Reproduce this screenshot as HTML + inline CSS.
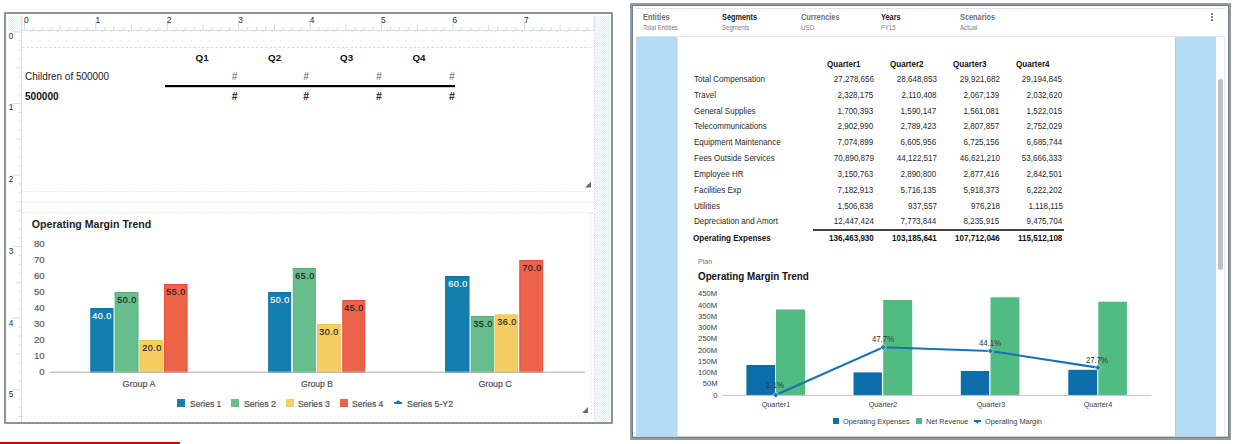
<!DOCTYPE html>
<html><head><meta charset="utf-8"><title>Report</title>
<style>html,body{margin:0;padding:0;}body{width:1235px;height:444px;position:relative;overflow:hidden;background:#fff;font-family:'Liberation Sans', sans-serif;}</style>
</head><body>
<div style="position:absolute;left:4px;top:12px;width:609px;height:412px;border:2px solid #8a9595;box-sizing:border-box;border-radius:1px;"></div><div style="position:absolute;left:8px;top:16px;width:14px;height:15px;background:repeating-conic-gradient(#e5f0f0 0 25%, #fafcfc 0 50%) 0 0/2px 2px;"></div><div style="position:absolute;left:594px;top:16px;width:17px;height:406px;background:repeating-conic-gradient(#e5f0f0 0 25%, #fafcfc 0 50%) 0 0/2px 2px;"></div><div style="position:absolute;left:630px;top:3px;width:601px;height:437px;border:2px solid #909d9b;box-sizing:border-box;border-radius:1px;"></div><div style="position:absolute;left:632px;top:5px;width:597px;height:433px;border:1px solid #737e8a;box-sizing:border-box;"></div><div style="position:absolute;left:633px;top:436px;width:595px;height:1px;background:#cfd1d6;"></div><div style="position:absolute;left:636px;top:8px;width:589px;height:1px;background:#ecdde8;"></div><div style="position:absolute;left:636px;top:36px;width:589px;height:1px;background:#ebe4ea;"></div><div style="position:absolute;left:636px;top:37px;width:41px;height:399px;background:#b5dcf5;"></div><div style="position:absolute;left:677px;top:37px;width:1px;height:399px;background:#e3e6ec;"></div><div style="position:absolute;left:1175px;top:37px;width:1px;height:399px;background:#c6c6c6;"></div><div style="position:absolute;left:1176px;top:37px;width:40px;height:399px;background:#b5dcf5;"></div><div style="position:absolute;left:1224px;top:37px;width:1px;height:399px;background:#e4eef0;"></div><div style="position:absolute;left:1218px;top:79px;width:5px;height:191px;background:#c2c0c3;border-radius:3px;"></div>
<svg style="position:absolute;left:0;top:0" width="1235" height="444"><rect x="22" y="30" width="572" height="1" fill="#d0dde6"/><rect x="23.95" y="20.5" width="1" height="9.5" fill="#d0dde6"/><rect x="32.88" y="27" width="1" height="3" fill="#d0dde6"/><rect x="41.80" y="27" width="1" height="3" fill="#d0dde6"/><rect x="50.73" y="27" width="1" height="3" fill="#d0dde6"/><rect x="59.66" y="24.5" width="1" height="5.5" fill="#d0dde6"/><rect x="68.59" y="27" width="1" height="3" fill="#d0dde6"/><rect x="77.52" y="27" width="1" height="3" fill="#d0dde6"/><rect x="86.44" y="27" width="1" height="3" fill="#d0dde6"/><rect x="95.37" y="20.5" width="1" height="9.5" fill="#d0dde6"/><rect x="104.30" y="27" width="1" height="3" fill="#d0dde6"/><rect x="113.23" y="27" width="1" height="3" fill="#d0dde6"/><rect x="122.15" y="27" width="1" height="3" fill="#d0dde6"/><rect x="131.08" y="24.5" width="1" height="5.5" fill="#d0dde6"/><rect x="140.01" y="27" width="1" height="3" fill="#d0dde6"/><rect x="148.94" y="27" width="1" height="3" fill="#d0dde6"/><rect x="157.86" y="27" width="1" height="3" fill="#d0dde6"/><rect x="166.79" y="20.5" width="1" height="9.5" fill="#d0dde6"/><rect x="175.72" y="27" width="1" height="3" fill="#d0dde6"/><rect x="184.64" y="27" width="1" height="3" fill="#d0dde6"/><rect x="193.57" y="27" width="1" height="3" fill="#d0dde6"/><rect x="202.50" y="24.5" width="1" height="5.5" fill="#d0dde6"/><rect x="211.43" y="27" width="1" height="3" fill="#d0dde6"/><rect x="220.35" y="27" width="1" height="3" fill="#d0dde6"/><rect x="229.28" y="27" width="1" height="3" fill="#d0dde6"/><rect x="238.21" y="20.5" width="1" height="9.5" fill="#d0dde6"/><rect x="247.14" y="27" width="1" height="3" fill="#d0dde6"/><rect x="256.06" y="27" width="1" height="3" fill="#d0dde6"/><rect x="264.99" y="27" width="1" height="3" fill="#d0dde6"/><rect x="273.92" y="24.5" width="1" height="5.5" fill="#d0dde6"/><rect x="282.85" y="27" width="1" height="3" fill="#d0dde6"/><rect x="291.77" y="27" width="1" height="3" fill="#d0dde6"/><rect x="300.70" y="27" width="1" height="3" fill="#d0dde6"/><rect x="309.63" y="20.5" width="1" height="9.5" fill="#d0dde6"/><rect x="318.56" y="27" width="1" height="3" fill="#d0dde6"/><rect x="327.49" y="27" width="1" height="3" fill="#d0dde6"/><rect x="336.41" y="27" width="1" height="3" fill="#d0dde6"/><rect x="345.34" y="24.5" width="1" height="5.5" fill="#d0dde6"/><rect x="354.27" y="27" width="1" height="3" fill="#d0dde6"/><rect x="363.19" y="27" width="1" height="3" fill="#d0dde6"/><rect x="372.12" y="27" width="1" height="3" fill="#d0dde6"/><rect x="381.05" y="20.5" width="1" height="9.5" fill="#d0dde6"/><rect x="389.98" y="27" width="1" height="3" fill="#d0dde6"/><rect x="398.90" y="27" width="1" height="3" fill="#d0dde6"/><rect x="407.83" y="27" width="1" height="3" fill="#d0dde6"/><rect x="416.76" y="24.5" width="1" height="5.5" fill="#d0dde6"/><rect x="425.69" y="27" width="1" height="3" fill="#d0dde6"/><rect x="434.62" y="27" width="1" height="3" fill="#d0dde6"/><rect x="443.54" y="27" width="1" height="3" fill="#d0dde6"/><rect x="452.47" y="20.5" width="1" height="9.5" fill="#d0dde6"/><rect x="461.40" y="27" width="1" height="3" fill="#d0dde6"/><rect x="470.32" y="27" width="1" height="3" fill="#d0dde6"/><rect x="479.25" y="27" width="1" height="3" fill="#d0dde6"/><rect x="488.18" y="24.5" width="1" height="5.5" fill="#d0dde6"/><rect x="497.11" y="27" width="1" height="3" fill="#d0dde6"/><rect x="506.04" y="27" width="1" height="3" fill="#d0dde6"/><rect x="514.96" y="27" width="1" height="3" fill="#d0dde6"/><rect x="523.89" y="20.5" width="1" height="9.5" fill="#d0dde6"/><rect x="532.82" y="27" width="1" height="3" fill="#d0dde6"/><rect x="541.75" y="27" width="1" height="3" fill="#d0dde6"/><rect x="550.67" y="27" width="1" height="3" fill="#d0dde6"/><rect x="559.60" y="24.5" width="1" height="5.5" fill="#d0dde6"/><rect x="568.53" y="27" width="1" height="3" fill="#d0dde6"/><rect x="577.46" y="27" width="1" height="3" fill="#d0dde6"/><rect x="586.38" y="27" width="1" height="3" fill="#d0dde6"/><rect x="21.3" y="16" width="1" height="15" fill="#d0dde6"/><rect x="593.6" y="16" width="1" height="15" fill="#d0dde6"/><rect x="21" y="31" width="1" height="391" fill="#d0dde6"/><rect x="12.5" y="31.50" width="8.5" height="1" fill="#d0dde6"/><rect x="18.5" y="40.44" width="2.5" height="1" fill="#d0dde6"/><rect x="18.5" y="49.39" width="2.5" height="1" fill="#d0dde6"/><rect x="18.5" y="58.33" width="2.5" height="1" fill="#d0dde6"/><rect x="16.5" y="67.28" width="4.5" height="1" fill="#d0dde6"/><rect x="18.5" y="76.22" width="2.5" height="1" fill="#d0dde6"/><rect x="18.5" y="85.16" width="2.5" height="1" fill="#d0dde6"/><rect x="18.5" y="94.11" width="2.5" height="1" fill="#d0dde6"/><rect x="12.5" y="103.05" width="8.5" height="1" fill="#d0dde6"/><rect x="18.5" y="111.99" width="2.5" height="1" fill="#d0dde6"/><rect x="18.5" y="120.94" width="2.5" height="1" fill="#d0dde6"/><rect x="18.5" y="129.88" width="2.5" height="1" fill="#d0dde6"/><rect x="16.5" y="138.82" width="4.5" height="1" fill="#d0dde6"/><rect x="18.5" y="147.77" width="2.5" height="1" fill="#d0dde6"/><rect x="18.5" y="156.71" width="2.5" height="1" fill="#d0dde6"/><rect x="18.5" y="165.66" width="2.5" height="1" fill="#d0dde6"/><rect x="12.5" y="174.60" width="8.5" height="1" fill="#d0dde6"/><rect x="18.5" y="183.54" width="2.5" height="1" fill="#d0dde6"/><rect x="18.5" y="192.49" width="2.5" height="1" fill="#d0dde6"/><rect x="18.5" y="201.43" width="2.5" height="1" fill="#d0dde6"/><rect x="16.5" y="210.38" width="4.5" height="1" fill="#d0dde6"/><rect x="18.5" y="219.32" width="2.5" height="1" fill="#d0dde6"/><rect x="18.5" y="228.26" width="2.5" height="1" fill="#d0dde6"/><rect x="18.5" y="237.21" width="2.5" height="1" fill="#d0dde6"/><rect x="12.5" y="246.15" width="8.5" height="1" fill="#d0dde6"/><rect x="18.5" y="255.09" width="2.5" height="1" fill="#d0dde6"/><rect x="18.5" y="264.04" width="2.5" height="1" fill="#d0dde6"/><rect x="18.5" y="272.98" width="2.5" height="1" fill="#d0dde6"/><rect x="16.5" y="281.92" width="4.5" height="1" fill="#d0dde6"/><rect x="18.5" y="290.87" width="2.5" height="1" fill="#d0dde6"/><rect x="18.5" y="299.81" width="2.5" height="1" fill="#d0dde6"/><rect x="18.5" y="308.76" width="2.5" height="1" fill="#d0dde6"/><rect x="12.5" y="317.70" width="8.5" height="1" fill="#d0dde6"/><rect x="18.5" y="326.64" width="2.5" height="1" fill="#d0dde6"/><rect x="18.5" y="335.59" width="2.5" height="1" fill="#d0dde6"/><rect x="18.5" y="344.53" width="2.5" height="1" fill="#d0dde6"/><rect x="16.5" y="353.47" width="4.5" height="1" fill="#d0dde6"/><rect x="18.5" y="362.42" width="2.5" height="1" fill="#d0dde6"/><rect x="18.5" y="371.36" width="2.5" height="1" fill="#d0dde6"/><rect x="18.5" y="380.31" width="2.5" height="1" fill="#d0dde6"/><rect x="12.5" y="389.25" width="8.5" height="1" fill="#d0dde6"/><rect x="18.5" y="398.19" width="2.5" height="1" fill="#d0dde6"/><rect x="18.5" y="407.14" width="2.5" height="1" fill="#d0dde6"/><rect x="18.5" y="416.08" width="2.5" height="1" fill="#d0dde6"/><rect x="29.88" y="31.2" width="2" height="1" fill="#f1dbe4"/><rect x="30.38" y="39.8" width="1" height="2" fill="#e3ecef"/><rect x="38.80" y="31.2" width="2" height="1" fill="#f1dbe4"/><rect x="39.30" y="39.8" width="1" height="2" fill="#e3ecef"/><rect x="47.73" y="31.2" width="2" height="1" fill="#f1dbe4"/><rect x="48.23" y="39.8" width="1" height="2" fill="#e3ecef"/><rect x="56.66" y="31.2" width="2" height="1" fill="#f1dbe4"/><rect x="57.16" y="39.8" width="1" height="2" fill="#e3ecef"/><rect x="65.59" y="31.2" width="2" height="1" fill="#f1dbe4"/><rect x="66.09" y="39.8" width="1" height="2" fill="#e3ecef"/><rect x="74.52" y="31.2" width="2" height="1" fill="#f1dbe4"/><rect x="75.02" y="39.8" width="1" height="2" fill="#e3ecef"/><rect x="83.44" y="31.2" width="2" height="1" fill="#f1dbe4"/><rect x="83.94" y="39.8" width="1" height="2" fill="#e3ecef"/><rect x="92.37" y="31.2" width="2" height="1" fill="#f1dbe4"/><rect x="92.87" y="39.8" width="1" height="2" fill="#e3ecef"/><rect x="101.30" y="31.2" width="2" height="1" fill="#f1dbe4"/><rect x="101.80" y="39.8" width="1" height="2" fill="#e3ecef"/><rect x="110.23" y="31.2" width="2" height="1" fill="#f1dbe4"/><rect x="110.73" y="39.8" width="1" height="2" fill="#e3ecef"/><rect x="119.15" y="31.2" width="2" height="1" fill="#f1dbe4"/><rect x="119.65" y="39.8" width="1" height="2" fill="#e3ecef"/><rect x="128.08" y="31.2" width="2" height="1" fill="#f1dbe4"/><rect x="128.58" y="39.8" width="1" height="2" fill="#e3ecef"/><rect x="137.01" y="31.2" width="2" height="1" fill="#f1dbe4"/><rect x="137.51" y="39.8" width="1" height="2" fill="#e3ecef"/><rect x="145.94" y="31.2" width="2" height="1" fill="#f1dbe4"/><rect x="146.44" y="39.8" width="1" height="2" fill="#e3ecef"/><rect x="154.86" y="31.2" width="2" height="1" fill="#f1dbe4"/><rect x="155.36" y="39.8" width="1" height="2" fill="#e3ecef"/><rect x="163.79" y="31.2" width="2" height="1" fill="#f1dbe4"/><rect x="164.29" y="39.8" width="1" height="2" fill="#e3ecef"/><rect x="172.72" y="31.2" width="2" height="1" fill="#f1dbe4"/><rect x="173.22" y="39.8" width="1" height="2" fill="#e3ecef"/><rect x="181.64" y="31.2" width="2" height="1" fill="#f1dbe4"/><rect x="182.14" y="39.8" width="1" height="2" fill="#e3ecef"/><rect x="190.57" y="31.2" width="2" height="1" fill="#f1dbe4"/><rect x="191.07" y="39.8" width="1" height="2" fill="#e3ecef"/><rect x="199.50" y="31.2" width="2" height="1" fill="#f1dbe4"/><rect x="200.00" y="39.8" width="1" height="2" fill="#e3ecef"/><rect x="208.43" y="31.2" width="2" height="1" fill="#f1dbe4"/><rect x="208.93" y="39.8" width="1" height="2" fill="#e3ecef"/><rect x="217.35" y="31.2" width="2" height="1" fill="#f1dbe4"/><rect x="217.85" y="39.8" width="1" height="2" fill="#e3ecef"/><rect x="226.28" y="31.2" width="2" height="1" fill="#f1dbe4"/><rect x="226.78" y="39.8" width="1" height="2" fill="#e3ecef"/><rect x="235.21" y="31.2" width="2" height="1" fill="#f1dbe4"/><rect x="235.71" y="39.8" width="1" height="2" fill="#e3ecef"/><rect x="244.14" y="31.2" width="2" height="1" fill="#f1dbe4"/><rect x="244.64" y="39.8" width="1" height="2" fill="#e3ecef"/><rect x="253.06" y="31.2" width="2" height="1" fill="#f1dbe4"/><rect x="253.56" y="39.8" width="1" height="2" fill="#e3ecef"/><rect x="261.99" y="31.2" width="2" height="1" fill="#f1dbe4"/><rect x="262.49" y="39.8" width="1" height="2" fill="#e3ecef"/><rect x="270.92" y="31.2" width="2" height="1" fill="#f1dbe4"/><rect x="271.42" y="39.8" width="1" height="2" fill="#e3ecef"/><rect x="279.85" y="31.2" width="2" height="1" fill="#f1dbe4"/><rect x="280.35" y="39.8" width="1" height="2" fill="#e3ecef"/><rect x="288.77" y="31.2" width="2" height="1" fill="#f1dbe4"/><rect x="289.27" y="39.8" width="1" height="2" fill="#e3ecef"/><rect x="297.70" y="31.2" width="2" height="1" fill="#f1dbe4"/><rect x="298.20" y="39.8" width="1" height="2" fill="#e3ecef"/><rect x="306.63" y="31.2" width="2" height="1" fill="#f1dbe4"/><rect x="307.13" y="39.8" width="1" height="2" fill="#e3ecef"/><rect x="315.56" y="31.2" width="2" height="1" fill="#f1dbe4"/><rect x="316.06" y="39.8" width="1" height="2" fill="#e3ecef"/><rect x="324.49" y="31.2" width="2" height="1" fill="#f1dbe4"/><rect x="324.99" y="39.8" width="1" height="2" fill="#e3ecef"/><rect x="333.41" y="31.2" width="2" height="1" fill="#f1dbe4"/><rect x="333.91" y="39.8" width="1" height="2" fill="#e3ecef"/><rect x="342.34" y="31.2" width="2" height="1" fill="#f1dbe4"/><rect x="342.84" y="39.8" width="1" height="2" fill="#e3ecef"/><rect x="351.27" y="31.2" width="2" height="1" fill="#f1dbe4"/><rect x="351.77" y="39.8" width="1" height="2" fill="#e3ecef"/><rect x="360.19" y="31.2" width="2" height="1" fill="#f1dbe4"/><rect x="360.69" y="39.8" width="1" height="2" fill="#e3ecef"/><rect x="369.12" y="31.2" width="2" height="1" fill="#f1dbe4"/><rect x="369.62" y="39.8" width="1" height="2" fill="#e3ecef"/><rect x="378.05" y="31.2" width="2" height="1" fill="#f1dbe4"/><rect x="378.55" y="39.8" width="1" height="2" fill="#e3ecef"/><rect x="386.98" y="31.2" width="2" height="1" fill="#f1dbe4"/><rect x="387.48" y="39.8" width="1" height="2" fill="#e3ecef"/><rect x="395.90" y="31.2" width="2" height="1" fill="#f1dbe4"/><rect x="396.40" y="39.8" width="1" height="2" fill="#e3ecef"/><rect x="404.83" y="31.2" width="2" height="1" fill="#f1dbe4"/><rect x="405.33" y="39.8" width="1" height="2" fill="#e3ecef"/><rect x="413.76" y="31.2" width="2" height="1" fill="#f1dbe4"/><rect x="414.26" y="39.8" width="1" height="2" fill="#e3ecef"/><rect x="422.69" y="31.2" width="2" height="1" fill="#f1dbe4"/><rect x="423.19" y="39.8" width="1" height="2" fill="#e3ecef"/><rect x="431.62" y="31.2" width="2" height="1" fill="#f1dbe4"/><rect x="432.12" y="39.8" width="1" height="2" fill="#e3ecef"/><rect x="440.54" y="31.2" width="2" height="1" fill="#f1dbe4"/><rect x="441.04" y="39.8" width="1" height="2" fill="#e3ecef"/><rect x="449.47" y="31.2" width="2" height="1" fill="#f1dbe4"/><rect x="449.97" y="39.8" width="1" height="2" fill="#e3ecef"/><rect x="458.40" y="31.2" width="2" height="1" fill="#f1dbe4"/><rect x="458.90" y="39.8" width="1" height="2" fill="#e3ecef"/><rect x="467.32" y="31.2" width="2" height="1" fill="#f1dbe4"/><rect x="467.82" y="39.8" width="1" height="2" fill="#e3ecef"/><rect x="476.25" y="31.2" width="2" height="1" fill="#f1dbe4"/><rect x="476.75" y="39.8" width="1" height="2" fill="#e3ecef"/><rect x="485.18" y="31.2" width="2" height="1" fill="#f1dbe4"/><rect x="485.68" y="39.8" width="1" height="2" fill="#e3ecef"/><rect x="494.11" y="31.2" width="2" height="1" fill="#f1dbe4"/><rect x="494.61" y="39.8" width="1" height="2" fill="#e3ecef"/><rect x="503.04" y="31.2" width="2" height="1" fill="#f1dbe4"/><rect x="503.54" y="39.8" width="1" height="2" fill="#e3ecef"/><rect x="511.96" y="31.2" width="2" height="1" fill="#f1dbe4"/><rect x="512.46" y="39.8" width="1" height="2" fill="#e3ecef"/><rect x="520.89" y="31.2" width="2" height="1" fill="#f1dbe4"/><rect x="521.39" y="39.8" width="1" height="2" fill="#e3ecef"/><rect x="529.82" y="31.2" width="2" height="1" fill="#f1dbe4"/><rect x="530.32" y="39.8" width="1" height="2" fill="#e3ecef"/><rect x="538.75" y="31.2" width="2" height="1" fill="#f1dbe4"/><rect x="539.25" y="39.8" width="1" height="2" fill="#e3ecef"/><rect x="547.67" y="31.2" width="2" height="1" fill="#f1dbe4"/><rect x="548.17" y="39.8" width="1" height="2" fill="#e3ecef"/><rect x="556.60" y="31.2" width="2" height="1" fill="#f1dbe4"/><rect x="557.10" y="39.8" width="1" height="2" fill="#e3ecef"/><rect x="565.53" y="31.2" width="2" height="1" fill="#f1dbe4"/><rect x="566.03" y="39.8" width="1" height="2" fill="#e3ecef"/><rect x="574.46" y="31.2" width="2" height="1" fill="#f1dbe4"/><rect x="574.96" y="39.8" width="1" height="2" fill="#e3ecef"/><rect x="583.38" y="31.2" width="2" height="1" fill="#f1dbe4"/><rect x="583.88" y="39.8" width="1" height="2" fill="#e3ecef"/><rect x="22" y="201.5" width="572" height="1" fill="#eef3f5"/><line x1="22" y1="47.5" x2="594" y2="47.5" stroke="#cfdde6" stroke-width="1" stroke-dasharray="2.5 2"/><line x1="22" y1="191.5" x2="594" y2="191.5" stroke="#cfdde6" stroke-width="1" stroke-dasharray="1 2"/><line x1="22" y1="212.5" x2="594" y2="212.5" stroke="#cfdde6" stroke-width="1" stroke-dasharray="1 2"/><line x1="22" y1="416.5" x2="592" y2="416.5" stroke="#cfdde6" stroke-width="1" stroke-dasharray="1 3"/><line x1="591.5" y1="213" x2="591.5" y2="416" stroke="#cfdde6" stroke-width="1" stroke-dasharray="1 3"/><line x1="594.5" y1="31" x2="594.5" y2="421" stroke="#e2cfdc" stroke-width="1" stroke-dasharray="1 2"/><path d="M591 181.5 L591 187.5 L585 187.5 Z" fill="#6b6b6b"/><path d="M588 407 L588 413 L582 413 Z" fill="#6b6b6b"/><rect x="165" y="85" width="290" height="2.2" fill="#000"/><rect x="90.80" y="308.50" width="22.20" height="64.00" fill="#137fae" stroke="#0f72a6" stroke-width="1"/><rect x="115.10" y="292.50" width="22.90" height="80.00" fill="#66be8c" stroke="#58ae7e" stroke-width="1"/><rect x="139.90" y="340.50" width="22.60" height="32.00" fill="#f6cd63" stroke="#efc250" stroke-width="1"/><rect x="164.50" y="284.50" width="22.60" height="88.00" fill="#ed634a" stroke="#e44b34" stroke-width="1"/><rect x="268.70" y="292.50" width="22.00" height="80.00" fill="#137fae" stroke="#0f72a6" stroke-width="1"/><rect x="293.30" y="268.50" width="22.00" height="104.00" fill="#66be8c" stroke="#58ae7e" stroke-width="1"/><rect x="317.50" y="324.50" width="22.70" height="48.00" fill="#f6cd63" stroke="#efc250" stroke-width="1"/><rect x="342.80" y="300.50" width="22.00" height="72.00" fill="#ed634a" stroke="#e44b34" stroke-width="1"/><rect x="445.60" y="276.50" width="23.40" height="96.00" fill="#137fae" stroke="#0f72a6" stroke-width="1"/><rect x="471.20" y="316.50" width="22.10" height="56.00" fill="#66be8c" stroke="#58ae7e" stroke-width="1"/><rect x="495.10" y="314.90" width="22.40" height="57.60" fill="#f6cd63" stroke="#efc250" stroke-width="1"/><rect x="519.80" y="260.50" width="22.90" height="112.00" fill="#ed634a" stroke="#e44b34" stroke-width="1"/><rect x="50" y="371.6" width="535" height="1.2" fill="#b8b8b8"/><rect x="746.4" y="365.0" width="28.70" height="30.40" fill="#0b6eaa"/><rect x="776.0" y="309.5" width="29.00" height="85.90" fill="#52bb82"/><rect x="853.5" y="372.4" width="28.40" height="23.00" fill="#0b6eaa"/><rect x="883.2" y="300.0" width="29.00" height="95.40" fill="#52bb82"/><rect x="960.8" y="371.0" width="28.40" height="24.40" fill="#0b6eaa"/><rect x="990.5" y="297.3" width="28.90" height="98.10" fill="#52bb82"/><rect x="1068.3" y="369.8" width="28.90" height="25.60" fill="#0b6eaa"/><rect x="1098.3" y="301.7" width="28.60" height="93.70" fill="#52bb82"/><rect x="722.4" y="394.9" width="429" height="1" fill="#c4bfcc"/><polyline points="775.7,395.0 883.2,347.3 990.5,351.0 1097.9,367.6" fill="none" stroke="#1872b3" stroke-width="2.1"/><path d="M775.7 392.0 L778.7 395.0 L775.7 398.0 L772.7 395.0 Z" fill="#1d78b6" stroke="#fff" stroke-width="0.6"/><path d="M883.2 344.3 L886.2 347.3 L883.2 350.3 L880.2 347.3 Z" fill="#1d78b6" stroke="#fff" stroke-width="0.6"/><path d="M990.5 348.0 L993.5 351.0 L990.5 354.0 L987.5 351.0 Z" fill="#1d78b6" stroke="#fff" stroke-width="0.6"/><path d="M1097.9 364.6 L1100.9 367.6 L1097.9 370.6 L1094.9 367.6 Z" fill="#1d78b6" stroke="#fff" stroke-width="0.6"/></svg>
<div style="position:absolute;top:16.00px;font-size:8.4px;line-height:8.4px;color:#2a2a2a;white-space:nowrap;left:24.00px;">0</div><div style="position:absolute;top:16.00px;font-size:8.4px;line-height:8.4px;color:#2a2a2a;white-space:nowrap;left:95.42px;">1</div><div style="position:absolute;top:16.00px;font-size:8.4px;line-height:8.4px;color:#2a2a2a;white-space:nowrap;left:166.84px;">2</div><div style="position:absolute;top:16.00px;font-size:8.4px;line-height:8.4px;color:#2a2a2a;white-space:nowrap;left:238.26px;">3</div><div style="position:absolute;top:16.00px;font-size:8.4px;line-height:8.4px;color:#2a2a2a;white-space:nowrap;left:309.68px;">4</div><div style="position:absolute;top:16.00px;font-size:8.4px;line-height:8.4px;color:#2a2a2a;white-space:nowrap;left:381.10px;">5</div><div style="position:absolute;top:16.00px;font-size:8.4px;line-height:8.4px;color:#2a2a2a;white-space:nowrap;left:452.52px;">6</div><div style="position:absolute;top:16.00px;font-size:8.4px;line-height:8.4px;color:#2a2a2a;white-space:nowrap;left:523.94px;">7</div><div style="position:absolute;top:33.00px;font-size:8.2px;line-height:8.2px;color:#2a2a2a;white-space:nowrap;left:8.80px;">0</div><div style="position:absolute;top:104.00px;font-size:8.2px;line-height:8.2px;color:#2a2a2a;white-space:nowrap;left:8.80px;">1</div><div style="position:absolute;top:176.00px;font-size:8.2px;line-height:8.2px;color:#2a2a2a;white-space:nowrap;left:8.80px;">2</div><div style="position:absolute;top:248.00px;font-size:8.2px;line-height:8.2px;color:#2a2a2a;white-space:nowrap;left:8.80px;">3</div><div style="position:absolute;top:320.00px;font-size:8.2px;line-height:8.2px;color:#2a2a2a;white-space:nowrap;left:8.80px;">4</div><div style="position:absolute;top:391.00px;font-size:8.2px;line-height:8.2px;color:#2a2a2a;white-space:nowrap;left:8.80px;">5</div><div style="position:absolute;top:71.00px;font-size:10.6px;line-height:10.6px;color:#1a1a1a;white-space:nowrap;left:24.90px;transform:scaleX(0.940);transform-origin:0 0;">Children of 500000</div><div style="position:absolute;top:91.00px;font-size:10.8px;line-height:10.8px;color:#111;white-space:nowrap;font-weight:bold;left:25.20px;transform:scaleX(0.933);transform-origin:0 0;">500000</div><div style="position:absolute;top:53.00px;font-size:9.8px;line-height:9.8px;color:#111;white-space:nowrap;font-weight:bold;left:-97.90px;width:600px;text-align:center;">Q1</div><div style="position:absolute;top:53.00px;font-size:9.8px;line-height:9.8px;color:#111;white-space:nowrap;font-weight:bold;left:-25.40px;width:600px;text-align:center;">Q2</div><div style="position:absolute;top:53.00px;font-size:9.8px;line-height:9.8px;color:#111;white-space:nowrap;font-weight:bold;left:46.60px;width:600px;text-align:center;">Q3</div><div style="position:absolute;top:53.00px;font-size:9.8px;line-height:9.8px;color:#111;white-space:nowrap;font-weight:bold;left:119.00px;width:600px;text-align:center;">Q4</div><div style="position:absolute;top:72.00px;font-size:10px;line-height:10px;color:#555;white-space:nowrap;right:997.80px;font-style:italic;">#</div><div style="position:absolute;top:92.00px;font-size:10px;line-height:10px;color:#111;white-space:nowrap;right:997.80px;font-style:italic;-webkit-text-stroke:0.2px #111;">#</div><div style="position:absolute;top:72.00px;font-size:10px;line-height:10px;color:#555;white-space:nowrap;right:926.20px;font-style:italic;">#</div><div style="position:absolute;top:92.00px;font-size:10px;line-height:10px;color:#111;white-space:nowrap;right:926.20px;font-style:italic;-webkit-text-stroke:0.2px #111;">#</div><div style="position:absolute;top:72.00px;font-size:10px;line-height:10px;color:#555;white-space:nowrap;right:853.50px;font-style:italic;">#</div><div style="position:absolute;top:92.00px;font-size:10px;line-height:10px;color:#111;white-space:nowrap;right:853.50px;font-style:italic;-webkit-text-stroke:0.2px #111;">#</div><div style="position:absolute;top:72.00px;font-size:10px;line-height:10px;color:#555;white-space:nowrap;right:780.50px;font-style:italic;">#</div><div style="position:absolute;top:92.00px;font-size:10px;line-height:10px;color:#111;white-space:nowrap;right:780.50px;font-style:italic;-webkit-text-stroke:0.2px #111;">#</div><div style="position:absolute;top:219.00px;font-size:10.6px;line-height:10.6px;color:#222;white-space:nowrap;font-weight:bold;left:31.80px;">Operating Margin Trend</div><div style="position:absolute;top:367.00px;font-size:9.6px;line-height:9.6px;color:#5c5c5c;white-space:nowrap;right:1190.40px;-webkit-text-stroke:0.2px #5c5c5c;">0</div><div style="position:absolute;top:351.00px;font-size:9.6px;line-height:9.6px;color:#5c5c5c;white-space:nowrap;right:1190.40px;-webkit-text-stroke:0.2px #5c5c5c;">10</div><div style="position:absolute;top:335.00px;font-size:9.6px;line-height:9.6px;color:#5c5c5c;white-space:nowrap;right:1190.40px;-webkit-text-stroke:0.2px #5c5c5c;">20</div><div style="position:absolute;top:319.00px;font-size:9.6px;line-height:9.6px;color:#5c5c5c;white-space:nowrap;right:1190.40px;-webkit-text-stroke:0.2px #5c5c5c;">30</div><div style="position:absolute;top:303.00px;font-size:9.6px;line-height:9.6px;color:#5c5c5c;white-space:nowrap;right:1190.40px;-webkit-text-stroke:0.2px #5c5c5c;">40</div><div style="position:absolute;top:287.00px;font-size:9.6px;line-height:9.6px;color:#5c5c5c;white-space:nowrap;right:1190.40px;-webkit-text-stroke:0.2px #5c5c5c;">50</div><div style="position:absolute;top:271.00px;font-size:9.6px;line-height:9.6px;color:#5c5c5c;white-space:nowrap;right:1190.40px;-webkit-text-stroke:0.2px #5c5c5c;">60</div><div style="position:absolute;top:255.00px;font-size:9.6px;line-height:9.6px;color:#5c5c5c;white-space:nowrap;right:1190.40px;-webkit-text-stroke:0.2px #5c5c5c;">70</div><div style="position:absolute;top:239.00px;font-size:9.6px;line-height:9.6px;color:#5c5c5c;white-space:nowrap;right:1190.40px;-webkit-text-stroke:0.2px #5c5c5c;">80</div><div style="position:absolute;top:311.00px;font-size:9.4px;line-height:9.4px;color:#fff;white-space:nowrap;letter-spacing:0.5px;left:-197.60px;width:600px;text-align:center;transform:scaleX(0.968);transform-origin:50% 0;-webkit-text-stroke:0.15px #fff;">40.0</div><div style="position:absolute;top:295.00px;font-size:9.4px;line-height:9.4px;color:#1a1a1a;white-space:nowrap;letter-spacing:0.5px;left:-172.95px;width:600px;text-align:center;transform:scaleX(0.968);transform-origin:50% 0;-webkit-text-stroke:0.15px #1a1a1a;">50.0</div><div style="position:absolute;top:343.00px;font-size:9.4px;line-height:9.4px;color:#1a1a1a;white-space:nowrap;letter-spacing:0.5px;left:-148.30px;width:600px;text-align:center;transform:scaleX(0.968);transform-origin:50% 0;-webkit-text-stroke:0.15px #1a1a1a;">20.0</div><div style="position:absolute;top:287.00px;font-size:9.4px;line-height:9.4px;color:#1a1a1a;white-space:nowrap;letter-spacing:0.5px;left:-123.70px;width:600px;text-align:center;transform:scaleX(0.968);transform-origin:50% 0;-webkit-text-stroke:0.15px #1a1a1a;">55.0</div><div style="position:absolute;top:295.00px;font-size:9.4px;line-height:9.4px;color:#fff;white-space:nowrap;letter-spacing:0.5px;left:-19.80px;width:600px;text-align:center;transform:scaleX(0.968);transform-origin:50% 0;-webkit-text-stroke:0.15px #fff;">50.0</div><div style="position:absolute;top:271.00px;font-size:9.4px;line-height:9.4px;color:#1a1a1a;white-space:nowrap;letter-spacing:0.5px;left:4.80px;width:600px;text-align:center;transform:scaleX(0.968);transform-origin:50% 0;-webkit-text-stroke:0.15px #1a1a1a;">65.0</div><div style="position:absolute;top:327.00px;font-size:9.4px;line-height:9.4px;color:#1a1a1a;white-space:nowrap;letter-spacing:0.5px;left:29.35px;width:600px;text-align:center;transform:scaleX(0.968);transform-origin:50% 0;-webkit-text-stroke:0.15px #1a1a1a;">30.0</div><div style="position:absolute;top:303.00px;font-size:9.4px;line-height:9.4px;color:#1a1a1a;white-space:nowrap;letter-spacing:0.5px;left:54.30px;width:600px;text-align:center;transform:scaleX(0.968);transform-origin:50% 0;-webkit-text-stroke:0.15px #1a1a1a;">45.0</div><div style="position:absolute;top:279.00px;font-size:9.4px;line-height:9.4px;color:#fff;white-space:nowrap;letter-spacing:0.5px;left:157.80px;width:600px;text-align:center;transform:scaleX(0.968);transform-origin:50% 0;-webkit-text-stroke:0.15px #fff;">60.0</div><div style="position:absolute;top:319.00px;font-size:9.4px;line-height:9.4px;color:#1a1a1a;white-space:nowrap;letter-spacing:0.5px;left:182.75px;width:600px;text-align:center;transform:scaleX(0.968);transform-origin:50% 0;-webkit-text-stroke:0.15px #1a1a1a;">35.0</div><div style="position:absolute;top:317.00px;font-size:9.4px;line-height:9.4px;color:#1a1a1a;white-space:nowrap;letter-spacing:0.5px;left:206.80px;width:600px;text-align:center;transform:scaleX(0.968);transform-origin:50% 0;-webkit-text-stroke:0.15px #1a1a1a;">36.0</div><div style="position:absolute;top:263.00px;font-size:9.4px;line-height:9.4px;color:#1a1a1a;white-space:nowrap;letter-spacing:0.5px;left:231.75px;width:600px;text-align:center;transform:scaleX(0.968);transform-origin:50% 0;-webkit-text-stroke:0.15px #1a1a1a;">70.0</div><div style="position:absolute;top:380.00px;font-size:9.2px;line-height:9.2px;color:#505050;white-space:nowrap;left:-160.90px;width:600px;text-align:center;transform:scaleX(0.979);transform-origin:50% 0;-webkit-text-stroke:0.2px #505050;">Group A</div><div style="position:absolute;top:380.00px;font-size:9.2px;line-height:9.2px;color:#505050;white-space:nowrap;left:17.20px;width:600px;text-align:center;transform:scaleX(0.935);transform-origin:50% 0;-webkit-text-stroke:0.2px #505050;">Group B</div><div style="position:absolute;top:380.00px;font-size:9.2px;line-height:9.2px;color:#505050;white-space:nowrap;left:195.00px;width:600px;text-align:center;transform:scaleX(0.956);transform-origin:50% 0;-webkit-text-stroke:0.2px #505050;">Group C</div><div style="position:absolute;left:176.8px;top:399.2px;width:7.8px;height:7.8px;background:#137fae;"></div><div style="position:absolute;left:231.2px;top:399.2px;width:7.8px;height:7.8px;background:#66be8c;"></div><div style="position:absolute;left:285.9px;top:399.2px;width:7.8px;height:7.8px;background:#f6cd63;"></div><div style="position:absolute;left:340.0px;top:399.2px;width:7.8px;height:7.8px;background:#ed634a;"></div><div style="position:absolute;top:400.00px;font-size:9.2px;line-height:9.2px;color:#505050;white-space:nowrap;left:189.70px;transform:scaleX(0.928);transform-origin:0 0;-webkit-text-stroke:0.2px #505050;">Series 1</div><div style="position:absolute;top:400.00px;font-size:9.2px;line-height:9.2px;color:#505050;white-space:nowrap;left:243.70px;transform:scaleX(0.943);transform-origin:0 0;-webkit-text-stroke:0.2px #505050;">Series 2</div><div style="position:absolute;top:400.00px;font-size:9.2px;line-height:9.2px;color:#505050;white-space:nowrap;left:297.90px;transform:scaleX(0.940);transform-origin:0 0;-webkit-text-stroke:0.2px #505050;">Series 3</div><div style="position:absolute;top:400.00px;font-size:9.2px;line-height:9.2px;color:#505050;white-space:nowrap;left:352.40px;transform:scaleX(0.931);transform-origin:0 0;-webkit-text-stroke:0.2px #505050;">Series 4</div><div style="position:absolute;top:400.00px;font-size:9.2px;line-height:9.2px;color:#505050;white-space:nowrap;left:406.50px;transform:scaleX(0.962);transform-origin:0 0;-webkit-text-stroke:0.2px #505050;">Series 5-Y2</div><svg style="position:absolute;left:0;top:0" width="1235" height="444"><path d="M394.1 402 H402 V403.9 H394.1 Z M395.9 402.2 L397.3 400.6 H399 L400.4 402.2 Z" fill="#1a78b6"/><path d="M397.2 403.8 L398.2 404.8 L399.2 403.8 Z" fill="#1a78b6" opacity="0.5"/></svg><div style="position:absolute;top:14.00px;font-size:8.2px;line-height:8.2px;color:#6e6e6e;white-space:nowrap;font-weight:bold;left:642.80px;transform:scaleX(0.899);transform-origin:0 0;">Entities</div><div style="position:absolute;top:24.00px;font-size:7px;line-height:7px;color:#7c7c7c;white-space:nowrap;left:642.80px;transform:scaleX(0.879);transform-origin:0 0;">Total Entities</div><div style="position:absolute;top:14.00px;font-size:8.2px;line-height:8.2px;color:#151515;white-space:nowrap;font-weight:bold;left:722.10px;transform:scaleX(0.894);transform-origin:0 0;">Segments</div><div style="position:absolute;top:24.00px;font-size:7px;line-height:7px;color:#7c7c7c;white-space:nowrap;left:722.10px;transform:scaleX(0.869);transform-origin:0 0;">Segments</div><div style="position:absolute;top:14.00px;font-size:8.2px;line-height:8.2px;color:#6e6e6e;white-space:nowrap;font-weight:bold;left:801.20px;transform:scaleX(0.900);transform-origin:0 0;">Currencies</div><div style="position:absolute;top:24.00px;font-size:7px;line-height:7px;color:#7c7c7c;white-space:nowrap;left:801.20px;transform:scaleX(0.907);transform-origin:0 0;">USD</div><div style="position:absolute;top:14.00px;font-size:8.2px;line-height:8.2px;color:#151515;white-space:nowrap;font-weight:bold;left:880.70px;transform:scaleX(0.897);transform-origin:0 0;">Years</div><div style="position:absolute;top:24.00px;font-size:7px;line-height:7px;color:#7c7c7c;white-space:nowrap;left:880.70px;transform:scaleX(0.872);transform-origin:0 0;">FY15</div><div style="position:absolute;top:14.00px;font-size:8.2px;line-height:8.2px;color:#6e6e6e;white-space:nowrap;font-weight:bold;left:959.60px;transform:scaleX(0.897);transform-origin:0 0;">Scenarios</div><div style="position:absolute;top:24.00px;font-size:7px;line-height:7px;color:#7c7c7c;white-space:nowrap;left:959.60px;transform:scaleX(0.883);transform-origin:0 0;">Actual</div><div style="position:absolute;left:1211.2px;top:12.6px;width:2.3px;height:2.3px;background:#555;border-radius:50%;"></div><div style="position:absolute;left:1211.2px;top:15.6px;width:2.3px;height:2.3px;background:#555;border-radius:50%;"></div><div style="position:absolute;left:1211.2px;top:18.6px;width:2.3px;height:2.3px;background:#555;border-radius:50%;"></div><div style="position:absolute;top:60.00px;font-size:8.6px;line-height:8.6px;color:#111;white-space:nowrap;font-weight:bold;left:827.20px;transform:scaleX(0.935);transform-origin:0 0;">Quarter1</div><div style="position:absolute;top:60.00px;font-size:8.6px;line-height:8.6px;color:#111;white-space:nowrap;font-weight:bold;left:890.20px;transform:scaleX(0.935);transform-origin:0 0;">Quarter2</div><div style="position:absolute;top:60.00px;font-size:8.6px;line-height:8.6px;color:#111;white-space:nowrap;font-weight:bold;left:953.10px;transform:scaleX(0.935);transform-origin:0 0;">Quarter3</div><div style="position:absolute;top:60.00px;font-size:8.6px;line-height:8.6px;color:#111;white-space:nowrap;font-weight:bold;left:1016.00px;transform:scaleX(0.935);transform-origin:0 0;">Quarter4</div><div style="position:absolute;top:75.00px;font-size:8.6px;line-height:8.6px;color:#2a2a2a;white-space:nowrap;left:693.60px;transform:scaleX(0.935);transform-origin:0 0;">Total Compensation</div><div style="position:absolute;top:75.00px;font-size:8.6px;line-height:8.6px;color:#2a2a2a;white-space:nowrap;right:361.30px;transform:scaleX(0.935);transform-origin:100% 0;">27,278,656</div><div style="position:absolute;top:75.00px;font-size:8.6px;line-height:8.6px;color:#2a2a2a;white-space:nowrap;right:298.30px;transform:scaleX(0.935);transform-origin:100% 0;">28,648,853</div><div style="position:absolute;top:75.00px;font-size:8.6px;line-height:8.6px;color:#2a2a2a;white-space:nowrap;right:235.40px;transform:scaleX(0.935);transform-origin:100% 0;">29,921,682</div><div style="position:absolute;top:75.00px;font-size:8.6px;line-height:8.6px;color:#2a2a2a;white-space:nowrap;right:172.50px;transform:scaleX(0.935);transform-origin:100% 0;">29,194,845</div><div style="position:absolute;top:91.00px;font-size:8.6px;line-height:8.6px;color:#2a2a2a;white-space:nowrap;left:693.60px;transform:scaleX(0.935);transform-origin:0 0;">Travel</div><div style="position:absolute;top:91.00px;font-size:8.6px;line-height:8.6px;color:#2a2a2a;white-space:nowrap;right:361.30px;transform:scaleX(0.935);transform-origin:100% 0;">2,328,175</div><div style="position:absolute;top:91.00px;font-size:8.6px;line-height:8.6px;color:#2a2a2a;white-space:nowrap;right:298.30px;transform:scaleX(0.935);transform-origin:100% 0;">2,110,408</div><div style="position:absolute;top:91.00px;font-size:8.6px;line-height:8.6px;color:#2a2a2a;white-space:nowrap;right:235.40px;transform:scaleX(0.935);transform-origin:100% 0;">2,067,139</div><div style="position:absolute;top:91.00px;font-size:8.6px;line-height:8.6px;color:#2a2a2a;white-space:nowrap;right:172.50px;transform:scaleX(0.935);transform-origin:100% 0;">2,032,620</div><div style="position:absolute;top:107.00px;font-size:8.6px;line-height:8.6px;color:#2a2a2a;white-space:nowrap;left:693.60px;transform:scaleX(0.935);transform-origin:0 0;">General Supplies</div><div style="position:absolute;top:107.00px;font-size:8.6px;line-height:8.6px;color:#2a2a2a;white-space:nowrap;right:361.30px;transform:scaleX(0.935);transform-origin:100% 0;">1,700,393</div><div style="position:absolute;top:107.00px;font-size:8.6px;line-height:8.6px;color:#2a2a2a;white-space:nowrap;right:298.30px;transform:scaleX(0.935);transform-origin:100% 0;">1,590,147</div><div style="position:absolute;top:107.00px;font-size:8.6px;line-height:8.6px;color:#2a2a2a;white-space:nowrap;right:235.40px;transform:scaleX(0.935);transform-origin:100% 0;">1,561,081</div><div style="position:absolute;top:107.00px;font-size:8.6px;line-height:8.6px;color:#2a2a2a;white-space:nowrap;right:172.50px;transform:scaleX(0.935);transform-origin:100% 0;">1,522,015</div><div style="position:absolute;top:122.00px;font-size:8.6px;line-height:8.6px;color:#2a2a2a;white-space:nowrap;left:693.60px;transform:scaleX(0.935);transform-origin:0 0;">Telecommunications</div><div style="position:absolute;top:122.00px;font-size:8.6px;line-height:8.6px;color:#2a2a2a;white-space:nowrap;right:361.30px;transform:scaleX(0.935);transform-origin:100% 0;">2,902,990</div><div style="position:absolute;top:122.00px;font-size:8.6px;line-height:8.6px;color:#2a2a2a;white-space:nowrap;right:298.30px;transform:scaleX(0.935);transform-origin:100% 0;">2,789,423</div><div style="position:absolute;top:122.00px;font-size:8.6px;line-height:8.6px;color:#2a2a2a;white-space:nowrap;right:235.40px;transform:scaleX(0.935);transform-origin:100% 0;">2,807,857</div><div style="position:absolute;top:122.00px;font-size:8.6px;line-height:8.6px;color:#2a2a2a;white-space:nowrap;right:172.50px;transform:scaleX(0.935);transform-origin:100% 0;">2,752,029</div><div style="position:absolute;top:138.00px;font-size:8.6px;line-height:8.6px;color:#2a2a2a;white-space:nowrap;left:693.60px;transform:scaleX(0.935);transform-origin:0 0;">Equipment Maintenance</div><div style="position:absolute;top:138.00px;font-size:8.6px;line-height:8.6px;color:#2a2a2a;white-space:nowrap;right:361.30px;transform:scaleX(0.935);transform-origin:100% 0;">7,074,899</div><div style="position:absolute;top:138.00px;font-size:8.6px;line-height:8.6px;color:#2a2a2a;white-space:nowrap;right:298.30px;transform:scaleX(0.935);transform-origin:100% 0;">6,605,956</div><div style="position:absolute;top:138.00px;font-size:8.6px;line-height:8.6px;color:#2a2a2a;white-space:nowrap;right:235.40px;transform:scaleX(0.935);transform-origin:100% 0;">6,725,156</div><div style="position:absolute;top:138.00px;font-size:8.6px;line-height:8.6px;color:#2a2a2a;white-space:nowrap;right:172.50px;transform:scaleX(0.935);transform-origin:100% 0;">6,685,744</div><div style="position:absolute;top:154.00px;font-size:8.6px;line-height:8.6px;color:#2a2a2a;white-space:nowrap;left:693.60px;transform:scaleX(0.935);transform-origin:0 0;">Fees Outside Services</div><div style="position:absolute;top:154.00px;font-size:8.6px;line-height:8.6px;color:#2a2a2a;white-space:nowrap;right:361.30px;transform:scaleX(0.935);transform-origin:100% 0;">70,890,879</div><div style="position:absolute;top:154.00px;font-size:8.6px;line-height:8.6px;color:#2a2a2a;white-space:nowrap;right:298.30px;transform:scaleX(0.935);transform-origin:100% 0;">44,122,517</div><div style="position:absolute;top:154.00px;font-size:8.6px;line-height:8.6px;color:#2a2a2a;white-space:nowrap;right:235.40px;transform:scaleX(0.935);transform-origin:100% 0;">46,621,210</div><div style="position:absolute;top:154.00px;font-size:8.6px;line-height:8.6px;color:#2a2a2a;white-space:nowrap;right:172.50px;transform:scaleX(0.935);transform-origin:100% 0;">53,666,333</div><div style="position:absolute;top:170.00px;font-size:8.6px;line-height:8.6px;color:#2a2a2a;white-space:nowrap;left:693.60px;transform:scaleX(0.935);transform-origin:0 0;">Employee HR</div><div style="position:absolute;top:170.00px;font-size:8.6px;line-height:8.6px;color:#2a2a2a;white-space:nowrap;right:361.30px;transform:scaleX(0.935);transform-origin:100% 0;">3,150,763</div><div style="position:absolute;top:170.00px;font-size:8.6px;line-height:8.6px;color:#2a2a2a;white-space:nowrap;right:298.30px;transform:scaleX(0.935);transform-origin:100% 0;">2,890,800</div><div style="position:absolute;top:170.00px;font-size:8.6px;line-height:8.6px;color:#2a2a2a;white-space:nowrap;right:235.40px;transform:scaleX(0.935);transform-origin:100% 0;">2,877,416</div><div style="position:absolute;top:170.00px;font-size:8.6px;line-height:8.6px;color:#2a2a2a;white-space:nowrap;right:172.50px;transform:scaleX(0.935);transform-origin:100% 0;">2,842,501</div><div style="position:absolute;top:186.00px;font-size:8.6px;line-height:8.6px;color:#2a2a2a;white-space:nowrap;left:693.60px;transform:scaleX(0.935);transform-origin:0 0;">Facilities Exp</div><div style="position:absolute;top:186.00px;font-size:8.6px;line-height:8.6px;color:#2a2a2a;white-space:nowrap;right:361.30px;transform:scaleX(0.935);transform-origin:100% 0;">7,182,913</div><div style="position:absolute;top:186.00px;font-size:8.6px;line-height:8.6px;color:#2a2a2a;white-space:nowrap;right:298.30px;transform:scaleX(0.935);transform-origin:100% 0;">5,716,135</div><div style="position:absolute;top:186.00px;font-size:8.6px;line-height:8.6px;color:#2a2a2a;white-space:nowrap;right:235.40px;transform:scaleX(0.935);transform-origin:100% 0;">5,918,373</div><div style="position:absolute;top:186.00px;font-size:8.6px;line-height:8.6px;color:#2a2a2a;white-space:nowrap;right:172.50px;transform:scaleX(0.935);transform-origin:100% 0;">6,222,202</div><div style="position:absolute;top:202.00px;font-size:8.6px;line-height:8.6px;color:#2a2a2a;white-space:nowrap;left:693.60px;transform:scaleX(0.935);transform-origin:0 0;">Utilities</div><div style="position:absolute;top:202.00px;font-size:8.6px;line-height:8.6px;color:#2a2a2a;white-space:nowrap;right:361.30px;transform:scaleX(0.935);transform-origin:100% 0;">1,506,838</div><div style="position:absolute;top:202.00px;font-size:8.6px;line-height:8.6px;color:#2a2a2a;white-space:nowrap;right:298.30px;transform:scaleX(0.935);transform-origin:100% 0;">937,557</div><div style="position:absolute;top:202.00px;font-size:8.6px;line-height:8.6px;color:#2a2a2a;white-space:nowrap;right:235.40px;transform:scaleX(0.935);transform-origin:100% 0;">976,218</div><div style="position:absolute;top:202.00px;font-size:8.6px;line-height:8.6px;color:#2a2a2a;white-space:nowrap;right:172.50px;transform:scaleX(0.935);transform-origin:100% 0;">1,118,115</div><div style="position:absolute;top:217.00px;font-size:8.6px;line-height:8.6px;color:#2a2a2a;white-space:nowrap;left:693.60px;transform:scaleX(0.935);transform-origin:0 0;">Depreciation and Amort</div><div style="position:absolute;top:217.00px;font-size:8.6px;line-height:8.6px;color:#2a2a2a;white-space:nowrap;right:361.30px;transform:scaleX(0.935);transform-origin:100% 0;">12,447,424</div><div style="position:absolute;top:217.00px;font-size:8.6px;line-height:8.6px;color:#2a2a2a;white-space:nowrap;right:298.30px;transform:scaleX(0.935);transform-origin:100% 0;">7,773,844</div><div style="position:absolute;top:217.00px;font-size:8.6px;line-height:8.6px;color:#2a2a2a;white-space:nowrap;right:235.40px;transform:scaleX(0.935);transform-origin:100% 0;">8,235,915</div><div style="position:absolute;top:217.00px;font-size:8.6px;line-height:8.6px;color:#2a2a2a;white-space:nowrap;right:172.50px;transform:scaleX(0.935);transform-origin:100% 0;">9,475,704</div><div style="position:absolute;left:813px;top:229.2px;width:251px;height:1.6px;background:#3d3f42;"></div><div style="position:absolute;top:234.00px;font-size:8.6px;line-height:8.6px;color:#111;white-space:nowrap;font-weight:bold;left:693.40px;transform:scaleX(0.935);transform-origin:0 0;">Operating Expenses</div><div style="position:absolute;top:234.00px;font-size:8.6px;line-height:8.6px;color:#111;white-space:nowrap;font-weight:bold;right:361.30px;transform:scaleX(0.935);transform-origin:100% 0;">136,463,930</div><div style="position:absolute;top:234.00px;font-size:8.6px;line-height:8.6px;color:#111;white-space:nowrap;font-weight:bold;right:298.30px;transform:scaleX(0.935);transform-origin:100% 0;">103,185,641</div><div style="position:absolute;top:234.00px;font-size:8.6px;line-height:8.6px;color:#111;white-space:nowrap;font-weight:bold;right:235.40px;transform:scaleX(0.935);transform-origin:100% 0;">107,712,046</div><div style="position:absolute;top:234.00px;font-size:8.6px;line-height:8.6px;color:#111;white-space:nowrap;font-weight:bold;right:172.50px;transform:scaleX(0.935);transform-origin:100% 0;">115,512,108</div><div style="position:absolute;top:258.00px;font-size:7px;line-height:7px;color:#777;white-space:nowrap;left:698.30px;transform:scaleX(1.013);transform-origin:0 0;">Plan</div><div style="position:absolute;top:272.00px;font-size:10.4px;line-height:10.4px;color:#111;white-space:nowrap;font-weight:bold;left:698.20px;transform:scaleX(0.944);transform-origin:0 0;">Operating Margin Trend</div><div style="position:absolute;top:392.00px;font-size:8px;line-height:8px;color:#3a3a3a;white-space:nowrap;right:517.70px;transform:scaleX(0.950);transform-origin:100% 0;">0</div><div style="position:absolute;top:380.00px;font-size:8px;line-height:8px;color:#3a3a3a;white-space:nowrap;right:517.70px;transform:scaleX(0.950);transform-origin:100% 0;">50M</div><div style="position:absolute;top:369.00px;font-size:8px;line-height:8px;color:#3a3a3a;white-space:nowrap;right:517.70px;transform:scaleX(0.950);transform-origin:100% 0;">100M</div><div style="position:absolute;top:358.00px;font-size:8px;line-height:8px;color:#3a3a3a;white-space:nowrap;right:517.70px;transform:scaleX(0.950);transform-origin:100% 0;">150M</div><div style="position:absolute;top:347.00px;font-size:8px;line-height:8px;color:#3a3a3a;white-space:nowrap;right:517.70px;transform:scaleX(0.950);transform-origin:100% 0;">200M</div><div style="position:absolute;top:335.00px;font-size:8px;line-height:8px;color:#3a3a3a;white-space:nowrap;right:517.70px;transform:scaleX(0.950);transform-origin:100% 0;">250M</div><div style="position:absolute;top:324.00px;font-size:8px;line-height:8px;color:#3a3a3a;white-space:nowrap;right:517.70px;transform:scaleX(0.950);transform-origin:100% 0;">300M</div><div style="position:absolute;top:313.00px;font-size:8px;line-height:8px;color:#3a3a3a;white-space:nowrap;right:517.70px;transform:scaleX(0.950);transform-origin:100% 0;">350M</div><div style="position:absolute;top:302.00px;font-size:8px;line-height:8px;color:#3a3a3a;white-space:nowrap;right:517.70px;transform:scaleX(0.950);transform-origin:100% 0;">400M</div><div style="position:absolute;top:290.00px;font-size:8px;line-height:8px;color:#3a3a3a;white-space:nowrap;right:517.70px;transform:scaleX(0.950);transform-origin:100% 0;">450M</div><div style="position:absolute;top:401.00px;font-size:8px;line-height:8px;color:#3a3a3a;white-space:nowrap;left:475.60px;width:600px;text-align:center;transform:scaleX(0.906);transform-origin:50% 0;">Quarter1</div><div style="position:absolute;top:401.00px;font-size:8px;line-height:8px;color:#3a3a3a;white-space:nowrap;left:583.20px;width:600px;text-align:center;transform:scaleX(0.906);transform-origin:50% 0;">Quarter2</div><div style="position:absolute;top:401.00px;font-size:8px;line-height:8px;color:#3a3a3a;white-space:nowrap;left:690.60px;width:600px;text-align:center;transform:scaleX(0.906);transform-origin:50% 0;">Quarter3</div><div style="position:absolute;top:401.00px;font-size:8px;line-height:8px;color:#3a3a3a;white-space:nowrap;left:798.20px;width:600px;text-align:center;transform:scaleX(0.906);transform-origin:50% 0;">Quarter4</div><div style="position:absolute;top:381.00px;font-size:8.8px;line-height:8.8px;color:#333;white-space:nowrap;left:475.40px;width:600px;text-align:center;transform:scaleX(0.897);transform-origin:50% 0;">1.1%</div><div style="position:absolute;top:335.00px;font-size:8.8px;line-height:8.8px;color:#333;white-space:nowrap;left:582.90px;width:600px;text-align:center;transform:scaleX(0.890);transform-origin:50% 0;">47.7%</div><div style="position:absolute;top:339.00px;font-size:8.8px;line-height:8.8px;color:#333;white-space:nowrap;left:690.10px;width:600px;text-align:center;transform:scaleX(0.890);transform-origin:50% 0;">44.1%</div><div style="position:absolute;top:356.00px;font-size:8.8px;line-height:8.8px;color:#333;white-space:nowrap;left:797.40px;width:600px;text-align:center;transform:scaleX(0.882);transform-origin:50% 0;">27.7%</div><div style="position:absolute;left:832.6px;top:418.2px;width:6px;height:6px;background:#0b6eaa;"></div><div style="position:absolute;top:418.00px;font-size:8px;line-height:8px;color:#3a3a3a;white-space:nowrap;left:842.60px;transform:scaleX(0.919);transform-origin:0 0;">Operating Expenses</div><div style="position:absolute;left:915.6px;top:418.2px;width:6px;height:6px;background:#52bb82;"></div><div style="position:absolute;top:418.00px;font-size:8px;line-height:8px;color:#3a3a3a;white-space:nowrap;left:925.60px;transform:scaleX(0.908);transform-origin:0 0;">Net Revenue</div><div style="position:absolute;left:974.0px;top:420.2px;width:7.0px;height:1.8px;background:#1872b3;"></div><div style="position:absolute;left:976.4px;top:419.7px;width:2.6px;height:2.6px;background:#1872b3;transform:rotate(45deg);"></div><div style="position:absolute;top:418.00px;font-size:8px;line-height:8px;color:#3a3a3a;white-space:nowrap;left:984.90px;transform:scaleX(0.921);transform-origin:0 0;">Operating Margin</div><div style="position:absolute;left:0px;top:442px;width:180px;height:2px;background:#cc0000;"></div>
</body></html>
